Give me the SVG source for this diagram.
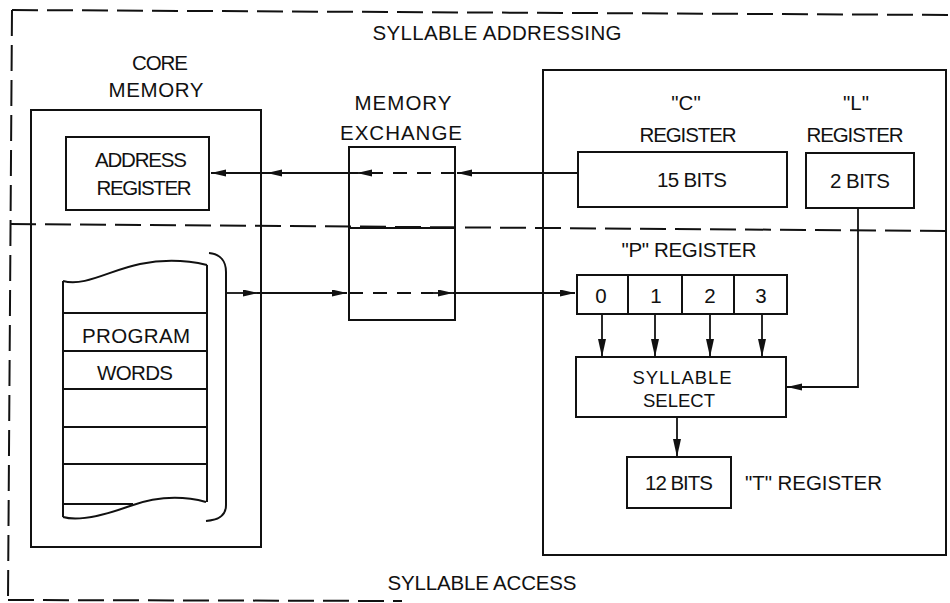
<svg xmlns="http://www.w3.org/2000/svg" width="950" height="603" viewBox="0 0 950 603">
<style>
.t{font-family:"Liberation Sans",Arial,sans-serif;font-size:20.5px;fill:#111;text-anchor:middle}
.sm{font-size:18.5px}
.s{fill:none;stroke:#111;stroke-width:2}
.d{fill:none;stroke:#111;stroke-width:2;stroke-dasharray:26 9}
.dd{fill:none;stroke:#111;stroke-width:2;stroke-dasharray:14 10}
.c{fill:none;stroke:#111;stroke-width:1.8}
</style>
<defs>
<marker id="ah" markerUnits="userSpaceOnUse" markerWidth="16" markerHeight="8" refX="15" refY="3.5" orient="auto">
<path d="M0,0 L15,3.5 L0,7 z" fill="#111"/>
</marker>
<marker id="av" markerUnits="userSpaceOnUse" markerWidth="19" markerHeight="9" refX="18" refY="4" orient="auto">
<path d="M0,0 L18,4 L0,8 z" fill="#111"/>
</marker>
</defs>
<rect width="950" height="603" fill="#fff"/>

<g id="frame">
<path class="d" d="M12,10 L950,15"/>
<path class="d" d="M12,10 L8,600"/>
<path class="d" d="M8,600 L402,601"/>
<path class="d" d="M10,224 L946,231"/>
<text class="t" x="497" y="40" textLength="249" lengthAdjust="spacing">SYLLABLE ADDRESSING</text>
<text class="t" x="482" y="590" textLength="189" lengthAdjust="spacing">SYLLABLE ACCESS</text>
</g>

<g id="core-memory">
<rect class="s" x="31" y="110" width="230" height="437"/>
<text class="t" x="160" y="70" textLength="56" lengthAdjust="spacing">CORE</text>
<text class="t" x="156" y="97" textLength="95" lengthAdjust="spacing">MEMORY</text>
</g>

<g id="address-register">
<rect class="s" x="66" y="137" width="143" height="73"/>
<text class="t" x="141" y="167" textLength="92" lengthAdjust="spacing">ADDRESS</text>
<text class="t" x="144" y="195" textLength="95" lengthAdjust="spacing">REGISTER</text>
</g>

<g id="program-words">
<path class="s" d="M63,281 C85,287 110,270 140,264 C165,259 190,261 207,265"/>
<path class="s" d="M63,281 V517"/>
<path class="s" d="M207,265 V502"/>
<path class="s" d="M63,313 H207 M63,351 H207 M63,389 H207 M63,427 H207 M63,464 H207 M63,504 H133"/>
<path class="s" d="M63,517 C80,522 105,515 130,506 C155,497 180,495 206,502"/>
<path class="s" d="M209,253 C221,254 226,262 226,272 V505 C226,515 220,520 206,521"/>
<text class="t" x="136" y="343" textLength="108" lengthAdjust="spacing">PROGRAM</text>
<text class="t" x="135" y="380" textLength="76" lengthAdjust="spacing">WORDS</text>
</g>

<g id="memory-exchange">
<rect class="s" x="349" y="147" width="106" height="173"/>
<path class="s" d="M349,228 H455"/>
<text class="t" x="403" y="110" textLength="97" lengthAdjust="spacing">MEMORY</text>
<text class="t" x="401" y="140" textLength="122" lengthAdjust="spacing">EXCHANGE</text>
</g>

<g id="processor">
<rect class="s" x="543" y="70" width="403" height="485"/>
</g>

<g id="c-register">
<rect class="s" x="578" y="152" width="209" height="55"/>
<text class="t" x="686" y="110">"C"</text>
<text class="t" x="688" y="142" textLength="97" lengthAdjust="spacing">REGISTER</text>
<text class="t" x="692" y="187" textLength="70" lengthAdjust="spacing">15 BITS</text>
</g>

<g id="l-register">
<rect class="s" x="806" y="153" width="108" height="55"/>
<text class="t" x="856" y="110">"L"</text>
<text class="t" x="855" y="142" textLength="97" lengthAdjust="spacing">REGISTER</text>
<text class="t" x="860" y="188" textLength="60" lengthAdjust="spacing">2 BITS</text>
</g>

<g id="p-register">
<rect class="s" x="577" y="275" width="210" height="39"/>
<path class="s" d="M628,275 V314 M682,275 V314 M734,275 V314"/>
<text class="t" x="689" y="257" textLength="135" lengthAdjust="spacing">"P" REGISTER</text>
<text class="t" x="601" y="303">0</text>
<text class="t" x="656" y="303">1</text>
<text class="t" x="710" y="303">2</text>
<text class="t" x="761" y="303">3</text>
</g>

<g id="syllable-select">
<rect class="s" x="576" y="357" width="210" height="60"/>
<text class="t sm" x="682" y="384" textLength="99" lengthAdjust="spacing">SYLLABLE</text>
<text class="t sm" x="679" y="407" textLength="72" lengthAdjust="spacing">SELECT</text>
</g>

<g id="t-register">
<rect class="s" x="627" y="457" width="104" height="51"/>
<text class="t" x="679" y="490" textLength="68" lengthAdjust="spacing">12 BITS</text>
<text class="t" x="745" y="490" textLength="137" lengthAdjust="spacing" style="text-anchor:start">"T" REGISTER</text>
</g>

<g id="connectors">
<path class="c" d="M578,173 H457" marker-end="url(#ah)"/>
<path class="dd" d="M455,173 H372"/>
<path class="c" d="M373,173 H357" marker-end="url(#ah)"/>
<path class="c" d="M358,173 H267" marker-end="url(#ah)"/>
<path class="c" d="M268,173 H211" marker-end="url(#ah)"/>

<path class="c" d="M226,293 H258" marker-end="url(#ah)"/>
<path class="c" d="M257,293 H347" marker-end="url(#ah)"/>
<path class="dd" d="M349,293 H433"/>
<path class="c" d="M432,293 H453" marker-end="url(#ah)"/>
<path class="c" d="M453,293 H575" marker-end="url(#ah)"/>

<path class="c" d="M602,314 V357" marker-end="url(#av)"/>
<path class="c" d="M655,314 V357" marker-end="url(#av)"/>
<path class="c" d="M710,314 V357" marker-end="url(#av)"/>
<path class="c" d="M762,314 V357" marker-end="url(#av)"/>

<path class="c" d="M858,208 V387 H787" marker-end="url(#ah)"/>
<path class="c" d="M677,417 V457" marker-end="url(#av)"/>
</g>
</svg>
